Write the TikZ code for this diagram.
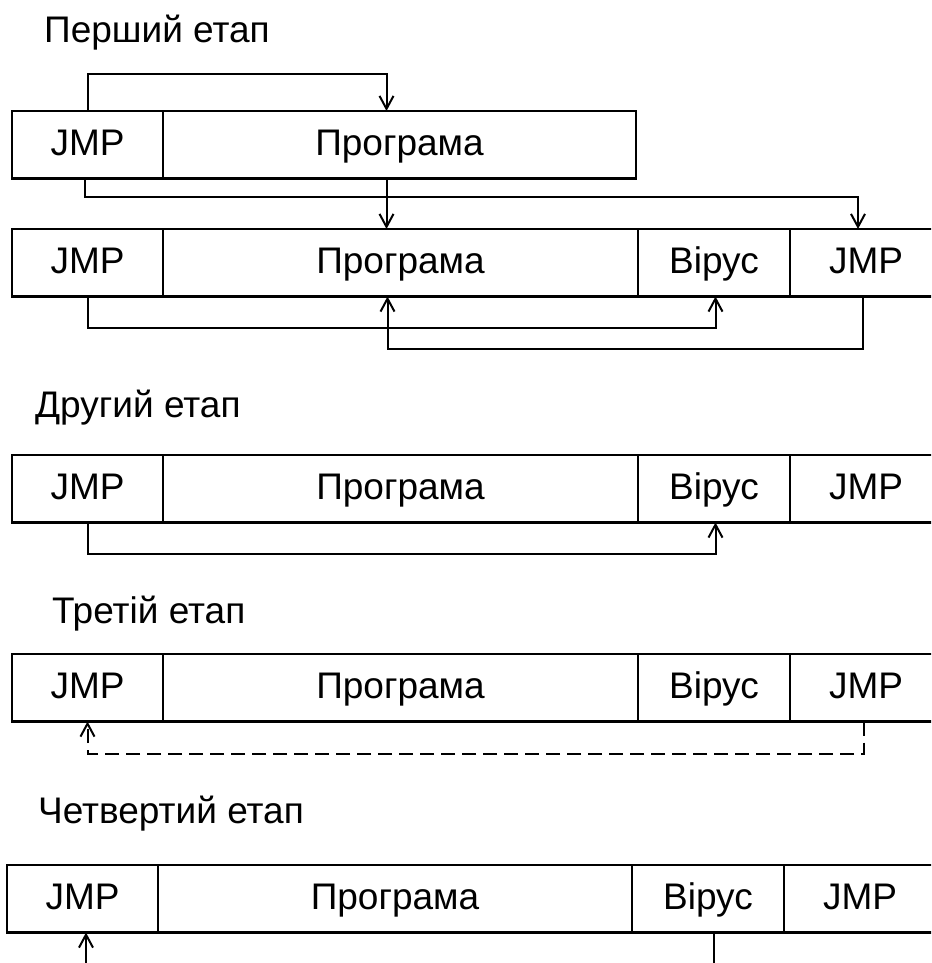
\documentclass[tikz,border=0pt]{standalone}
\usepackage{fontspec}
\setmainfont{Liberation Sans}
\usetikzlibrary{arrows.meta,calc}
\begin{document}
\begin{tikzpicture}[x=1pt,y=-1pt,
  cell/.style={draw,line width=2.4pt,anchor=north west,minimum height=67.5pt,
    inner sep=0pt,outer sep=0pt,text height=27pt,text depth=5pt,
    font=\fontsize{37}{40}\selectfont},
  title/.style={anchor=base west,inner sep=0pt,font=\fontsize{37}{40}\selectfont},
  link/.style={line width=2pt,-{Straight Barb[length=13pt,width=14pt,line width=2pt]}},
  plain/.style={line width=2pt},
  dashlink/.style={link,dash pattern=on 14pt off 7pt}]
\useasboundingbox (0,0) rectangle (931,963);
\clip (0,0) rectangle (931,963);

% stage titles
\node[title] (t1) at (44,43) {Перший етап};
\node[title] (t2) at (35,417) {Другий етап};
\node[title] (t3) at (52,623) {Третій етап};
\node[title] (t4) at (38,823) {Четвертий етап};

% row 1: original program
\node[cell,minimum width=151pt] (j1) at (12,111) {JMP};
\node[cell,minimum width=473pt] (p1) at (j1.north east) {Програма};

% row 2: infected program
\node[cell,minimum width=151pt] (j2) at (12,229) {JMP};
\node[cell,minimum width=475pt] (p2) at (j2.north east) {Програма};
\node[cell,minimum width=152pt] (v2) at (p2.north east) {Вірус};
\node[cell,minimum width=152pt] (k2) at (v2.north east) {JMP};

% row 3
\node[cell,minimum width=151pt] (j3) at (12,455) {JMP};
\node[cell,minimum width=475pt] (p3) at (j3.north east) {Програма};
\node[cell,minimum width=152pt] (v3) at (p3.north east) {Вірус};
\node[cell,minimum width=152pt] (k3) at (v3.north east) {JMP};

% row 4
\node[cell,minimum width=151pt] (j4) at (12,654) {JMP};
\node[cell,minimum width=475pt] (p4) at (j4.north east) {Програма};
\node[cell,minimum width=152pt] (v4) at (p4.north east) {Вірус};
\node[cell,minimum width=152pt] (k4) at (v4.north east) {JMP};

% row 5
\node[cell,minimum width=151pt] (j5) at (7,865) {JMP};
\node[cell,minimum width=474pt] (p5) at (j5.north east) {Програма};
\node[cell,minimum width=152pt] (v5) at (p5.north east) {Вірус};
\node[cell,minimum width=152pt] (k5) at (v5.north east) {JMP};

% first stage jumps
\draw[link] (j1.north) -- ++(0,-37) -| ([xshift=-13pt]p1.north);
\draw[link] ([xshift=-2.5pt]j1.south) -- ++(0,18.5) -| ([xshift=-8pt]k2.north);
\draw[link] ([xshift=-13pt]p1.south) -- ([xshift=-13pt]p1.south |- p2.north);
\draw[link] (j2.south) -- ++(0,31.5) -| ([xshift=1.5pt]v2.south);
\draw[link] ([xshift=-3pt]k2.south) -- ++(0,52.5) -| ([xshift=-13pt]p2.south);

% second stage
\draw[link] (j3.south) -- ++(0,31.5) -| ([xshift=1.5pt]v3.south);

% third stage
\draw[dashlink] ([xshift=-2pt]k4.south) -- ++(0,32) -| (j4.south);

% fourth stage
\coordinate (e1) at (86,980);
\coordinate (e2) at (714,980);
\draw[link] (e1) -- (e1 |- j5.south);
\draw[plain] (e2 |- v5.south) -- (e2);
\end{tikzpicture}
\end{document}
